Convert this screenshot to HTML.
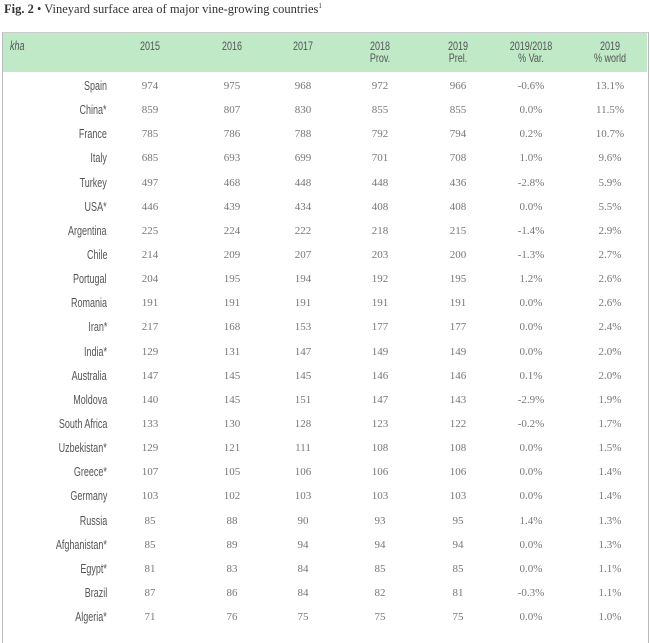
<!DOCTYPE html>
<html><head><meta charset="utf-8"><style>
body{margin:0;width:650px;height:632px;background:#fff;position:relative;overflow:hidden;font-family:"Liberation Serif",serif}
.t{position:absolute;left:4px;top:2px;font-size:12.5px;color:#333}
.box{position:absolute;left:2px;top:32px;width:645px;height:610px;border-left:1px solid #bbb;border-right:1px solid #bbb;border-top:1px solid #ccc}
.hd{position:absolute;left:3px;top:33px;width:644px;height:39px;background:#bfe9c7}
.c{position:absolute;font-family:"Liberation Sans",sans-serif;font-size:12.5px;color:#555;transform:scaleX(0.72);white-space:nowrap;line-height:12px}
.n{position:absolute;font-size:11px;color:#777;width:80px;text-align:center;margin-left:-40px;line-height:12px}
.h{position:absolute;font-family:"Liberation Sans",sans-serif;font-size:12px;color:#555;width:90px;text-align:center;margin-left:-45px;transform:scaleX(0.75);line-height:12px}
</style></head><body>
<div class="t"><b>Fig. 2</b> • Vineyard surface area of major vine-growing countries<sup style="font-size:7px">1</sup></div>
<div class="box"></div><div class="hd"></div>
<div id="r"></div>
<script>
var H=[["kha",0],["2015",150],["2016",232],["2017",303],["2018<br>Prov.",380],["2019<br>Prel.",458],["2019/2018<br>% Var.",531],["2019<br>% world",610]];
var s="";
s+='<div class="c" style="left:10px;top:40px;font-style:italic;transform-origin:left">kha</div>';
for(var i=1;i<H.length;i++)s+='<div class="h" style="left:'+H[i][1]+'px;top:40px">'+H[i][0]+'</div>';
var D=[["Spain",974,975,968,972,966,"-0.6%","13.1%"],["China*",859,807,830,855,855,"0.0%","11.5%"],["France",785,786,788,792,794,"0.2%","10.7%"],["Italy",685,693,699,701,708,"1.0%","9.6%"],["Turkey",497,468,448,448,436,"-2.8%","5.9%"],["USA*",446,439,434,408,408,"0.0%","5.5%"],["Argentina",225,224,222,218,215,"-1.4%","2.9%"],["Chile",214,209,207,203,200,"-1.3%","2.7%"],["Portugal",204,195,194,192,195,"1.2%","2.6%"],["Romania",191,191,191,191,191,"0.0%","2.6%"],["Iran*",217,168,153,177,177,"0.0%","2.4%"],["India*",129,131,147,149,149,"0.0%","2.0%"],["Australia",147,145,145,146,146,"0.1%","2.0%"],["Moldova",140,145,151,147,143,"-2.9%","1.9%"],["South Africa",133,130,128,123,122,"-0.2%","1.7%"],["Uzbekistan*",129,121,111,108,108,"0.0%","1.5%"],["Greece*",107,105,106,106,106,"0.0%","1.4%"],["Germany",103,102,103,103,103,"0.0%","1.4%"],["Russia",85,88,90,93,95,"1.4%","1.3%"],["Afghanistan*",85,89,94,94,94,"0.0%","1.3%"],["Egypt*",81,83,84,85,85,"0.0%","1.1%"],["Brazil",87,86,84,82,81,"-0.3%","1.1%"],["Algeria*",71,76,75,75,75,"0.0%","1.0%"]];
for(var r=0;r<D.length;r++){var y=80+r*24.14;
s+='<div class="c" style="right:'+(650-107)+'px;top:'+y+'px;transform-origin:right">'+D[r][0]+'</div>';
for(var k=1;k<8;k++)s+='<div class="n" style="left:'+H[k][1]+'px;top:'+y+'px">'+D[r][k]+'</div>';}
document.getElementById("r").innerHTML=s;
</script>
</body></html>
